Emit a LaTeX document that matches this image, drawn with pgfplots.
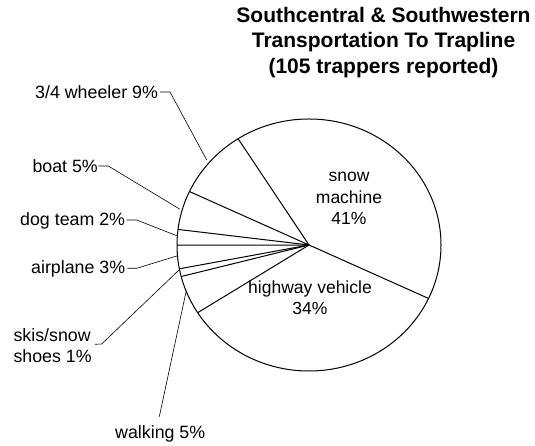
\documentclass[border=0pt]{standalone}
\usepackage{pgfplots}
\usepackage{pgfplotstable}
\pgfplotsset{compat=1.18}
\usepackage{fontspec}
\setmainfont{Liberation Sans}
\pgfplotstableread{
name pct
snow 41
highway 34
walking 5
skis 1
airplane 3
dog 2
boat 5
wheeler 9
}\piedata
\pgfplotstablecreatecol[expr accum={\pgfmathaccuma + \thisrow{pct}}{0}]{cum}{\piedata}
\begin{document}
\begin{tikzpicture}
\begin{axis}[
  scale only axis, width=535pt, height=446pt,
  xmin=0, xmax=535, ymin=0, ymax=446,
  hide axis, clip=false, anchor=south west, at={(0,0)},
]
% pie outline
\draw[line width=1pt] (axis cs:309,201) ellipse [x radius=132, y radius=126];
% sector boundaries from the percentages (start at 122.5 deg, clockwise)
\addplot[line width=1pt, black, quiver={
    u={132*cos(122.5-3.6*\thisrow{cum})},
    v={126*sin(122.5-3.6*\thisrow{cum})}}]
  table[x expr=309, y expr=201] {\piedata};
% title
\node[font=\fontsize{21}{25.8}\selectfont\bfseries, align=center] at (axis cs:383.5,403.5)
  {Southcentral \& Southwestern\\Transportation To Trapline\\(105 trappers reported)};
% inside labels
\node[font=\fontsize{17.5}{21.6}\selectfont, align=center] at (axis cs:349,247.5)
  {snow\\machine\\41\%};
\node[font=\fontsize{17.5}{20.6}\selectfont, align=center] at (axis cs:310,148)
  {highway vehicle\\34\%};
% outside labels
\begin{scope}[every node/.style={font=\fontsize{17.8}{21.5}\selectfont, anchor=west, inner sep=0pt, align=left}]
\node at (axis cs:35,354) {3/4 wheeler 9\%};
\node at (axis cs:32.3,280) {boat 5\%};
\node at (axis cs:20,225) {dog team 2\%};
\node at (axis cs:31,177) {airplane 3\%};
\node at (axis cs:13.3,100.5) {skis/snow\\shoes 1\%};
\node at (axis cs:115,12) {walking 5\%};
\end{scope}
% leaders
\begin{scope}[line width=0.6pt]
\draw (axis cs:160,354) -- (axis cs:170,354) -- (axis cs:206.7,286);
\draw (axis cs:98.3,280) -- (axis cs:108.3,280) -- (axis cs:180,236.7);
\draw (axis cs:126.7,226) -- (axis cs:136.7,226) -- (axis cs:176.7,210.3);
\draw (axis cs:127.3,177.7) -- (axis cs:136.7,177.7) -- (axis cs:176.7,190);
\draw (axis cs:95,101.7) -- (axis cs:101.7,102) -- (axis cs:179,176);
\draw (axis cs:159.3,29.3) -- (axis cs:186,154);
\end{scope}
\end{axis}
\pgfresetboundingbox
\path (0,0) rectangle (535pt,446pt);
\end{tikzpicture}
\end{document}
